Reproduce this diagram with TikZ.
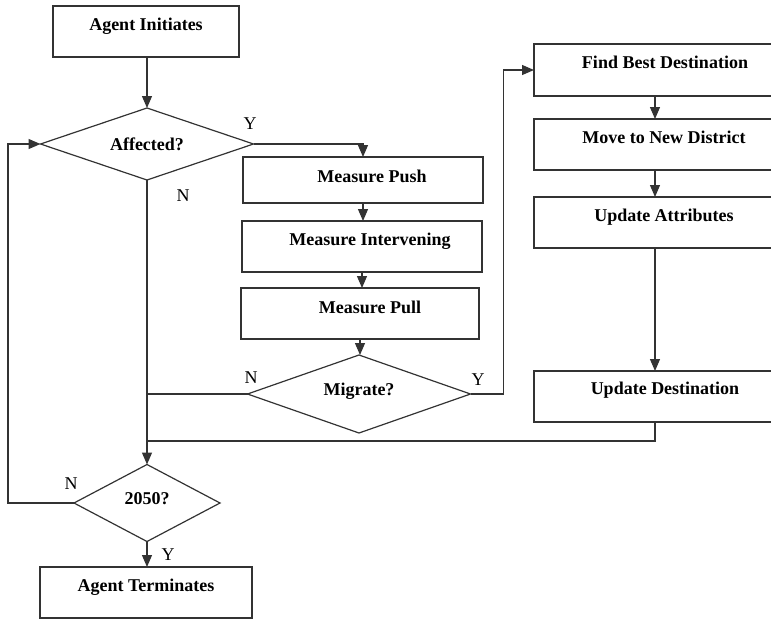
\documentclass[tikz,border=0pt]{standalone}
\usepackage{fontspec}
\setmainfont{Liberation Serif}
\usetikzlibrary{shapes.geometric,arrows.meta}
\begin{document}
\begin{tikzpicture}[x=1pt,y=-1pt,
  every node/.style={inner sep=0pt, outer sep=0pt},
  line/.style={draw=black!80, line width=1.2pt},
  arr/.style={line, -{Triangle[length=12pt,width=10pt]}},
  box/.style={line, rectangle, anchor=north west, align=center,
    font=\fontsize{18}{20}\selectfont\bfseries, text height=24pt, text depth=27pt},
  dia/.style={line, diamond, font=\fontsize{18}{20}\selectfont\bfseries, text height=12pt, text depth=10pt},
  lbl/.style={font=\fontsize{18}{20}\selectfont, text depth=0pt}
]
\useasboundingbox (0,0) rectangle (771,619);
\clip (0,0) rectangle (771,619);

% boxes
\node[box, minimum width=186pt] (init) at (53,6) {Agent Initiates};
\node[box, minimum width=240pt, text height=25pt, text depth=21pt] (push) at (243,157) {\hspace*{18pt}Measure Push};
\node[box, minimum width=240pt] (interv) at (242,221) {\hspace*{16pt}Measure Intervening};
\node[box, minimum width=238pt, text height=25pt, text depth=26pt] (pull) at (241,288) {\hspace*{20pt}Measure Pull};
\node[box, minimum width=242pt, text depth=28pt] (fbd) at (534,44) {\hspace*{20pt}Find Best Destination};
\node[box, minimum width=242pt] (move) at (534,119) {\hspace*{18pt}Move to New District};
\node[box, minimum width=242pt] (upatt) at (534,197) {\hspace*{18pt}Update Attributes};
\node[box, minimum width=242pt, text height=23pt, text depth=28pt] (updest) at (534,371) {\hspace*{20pt}Update Destination};
\node[box, minimum width=212pt] (term) at (40,567) {Agent Terminates};

% decisions
\node[dia, aspect=3, minimum width=213pt, minimum height=72pt, text depth=0pt] (aff) at (147,144) {Affected?};
\node[dia, aspect=2.86, minimum width=223pt, minimum height=78pt] (mig) at (359,394) {Migrate?};
\node[dia, aspect=1.9, minimum width=146pt, minimum height=77pt] (y2050) at (147,503) {2050?};

% connectors
\draw[arr] (init.south -| aff.north) -- (aff.north);
\draw[arr] (aff.east) -| (push.north);
\draw[arr] (push.south) -- (push.south |- interv.north);
\draw[arr] (interv.south) -- (interv.south |- pull.north);
\draw[arr] (pull.south) -- (pull.south |- mig.north);
\draw[arr] (aff.south) -- (y2050.north);
\draw[line] (mig.west) -- (aff.south |- mig.west);
\draw[arr] (mig.east) -- ++(33,0) |- (fbd.west);
\draw[arr] (fbd.south -| 655,0) -- (move.north -| 655,0);
\draw[arr] (move.south -| 655,0) -- (upatt.north -| 655,0);
\draw[arr] (upatt.south -| 655,0) -- (updest.north -| 655,0);
\draw[line] (updest.south -| 655,0) |- (aff.south |- 0,441);
\draw[arr] (y2050.west) -- ++(-66,0) |- (aff.west);
\draw[arr] (y2050.south) -- (y2050.south |- term.north);

% labels
\node[lbl] (laffy) at (250,124) {Y};
\node[lbl] (laffn) at (183,196) {N};
\node[lbl] (lmign) at (251,378) {N};
\node[lbl] (lmigy) at (478,380) {Y};
\node[lbl] (lyrn) at (71,484) {N};
\node[lbl] (lyry) at (168,555) {Y};
\end{tikzpicture}
\end{document}
